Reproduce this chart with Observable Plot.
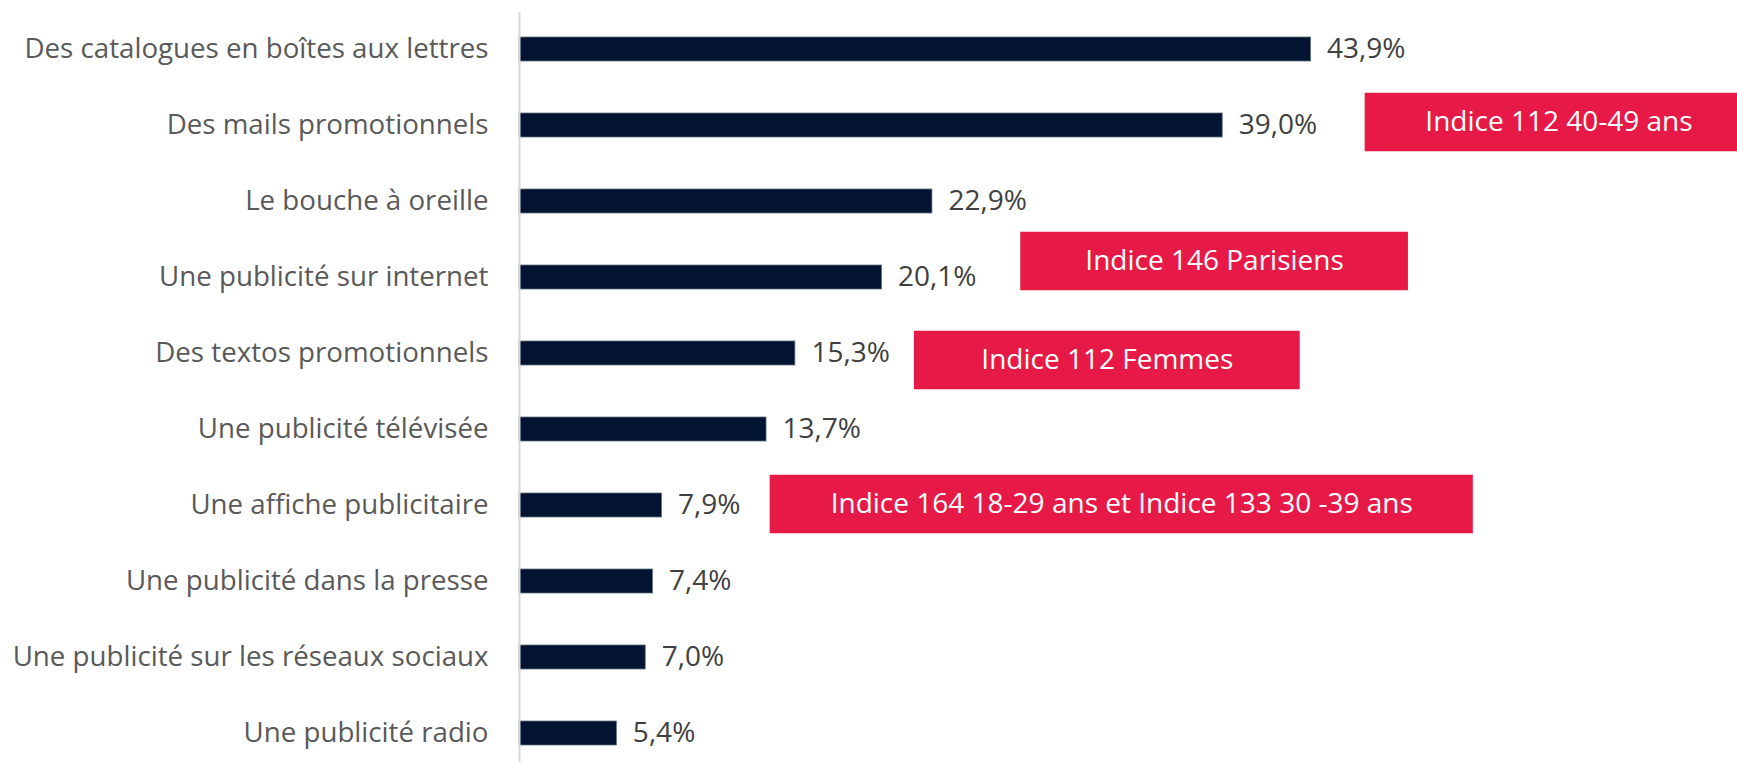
<!DOCTYPE html>
<html>
<head>
<meta charset="utf-8">
<script src="https://cdn.jsdelivr.net/npm/d3@7"></script>
<script src="https://cdn.jsdelivr.net/npm/@observablehq/plot@0.6"></script>
<style>
  html, body { margin: 0; padding: 0; background: #fff; overflow: hidden; }
  #chart svg { display: block; }
</style>
</head>
<body>
<div id="chart"></div>
<script>
const categories = [
  "Des catalogues en boîtes aux lettres",
  "Des mails promotionnels",
  "Le bouche à oreille",
  "Une publicité sur internet",
  "Des textos promotionnels",
  "Une publicité télévisée",
  "Une affiche publicitaire",
  "Une publicité dans la presse",
  "Une publicité sur les réseaux sociaux",
  "Une publicité radio"
];
const values = [43.9, 39.0, 22.9, 20.1, 15.3, 13.7, 7.9, 7.4, 7.0, 5.4];

const annotationText = [
  "Indice 112 40-49 ans",
  "Indice 146 Parisiens",
  "Indice 112 Femmes",
  "Indice 164 18-29 ans et Indice 133 30 -39 ans"
];
const annotationCategory = [
  "Des mails promotionnels",
  "Une publicité sur internet",
  "Des textos promotionnels",
  "Une affiche publicitaire"
];
const annotationStart = [46.9, 27.8, 21.9, 13.9];
const annotationEnd = [68.4, 49.3, 43.3, 52.9];

const data = categories.map((c, i) => ({category: c, value: values[i]}));
const notes = annotationText.map((t, i) => ({
  text: t, category: annotationCategory[i],
  x1: annotationStart[i], x2: annotationEnd[i],
  xm: (annotationStart[i] + annotationEnd[i]) / 2
}));

// vertical nudges of the callout boxes (px), as drawn in the reference
const nudge = [-3, -16, 7, -1];
const halfBox = 29.25, halfBand = 12;

const fmt = v => v.toFixed(1).replace(".", ",") + "%";

const noteMarks = notes.flatMap((n, i) => [
  Plot.barX([n], {
    x1: "x1", x2: "x2", y: "category",
    fill: "#E71A47",
    insetTop: -(halfBox - halfBand) + nudge[i],
    insetBottom: -(halfBox - halfBand) - nudge[i]
  }),
  Plot.text([n], {
    x: "xm", y: "category", text: "text",
    fill: "white", fontSize: 28, dy: nudge[i]
  })
]);

const chart = Plot.plot({
  width: 1737,
  height: 762,
  marginLeft: 519,
  marginRight: 0,
  marginTop: 12,
  marginBottom: 0,
  style: {fontFamily: "'Open Sans', sans-serif", fontSize: "28px", background: "white"},
  x: {domain: [0, 67.55], axis: null},
  y: {domain: categories, range: [11, 771], paddingInner: 0.684, paddingOuter: 0.342, label: null},
  marks: [
    Plot.axisY({tickSize: 0, tickPadding: 31, fontSize: 27.7, color: "#595959", label: null}),
    Plot.barX(data, {x: "value", y: "category", fill: "#021431", stroke: "#5f6c80", strokeWidth: 0.8}),
    Plot.text(data, {x: "value", y: "category", text: d => fmt(d.value), dx: 16, textAnchor: "start", fill: "#404040", fontSize: 28}),
    ...noteMarks,
    Plot.ruleX([0], {stroke: "#d9d9d9", strokeWidth: 2})
  ]
});
document.getElementById("chart").append(chart);
</script>
</body>
</html>
